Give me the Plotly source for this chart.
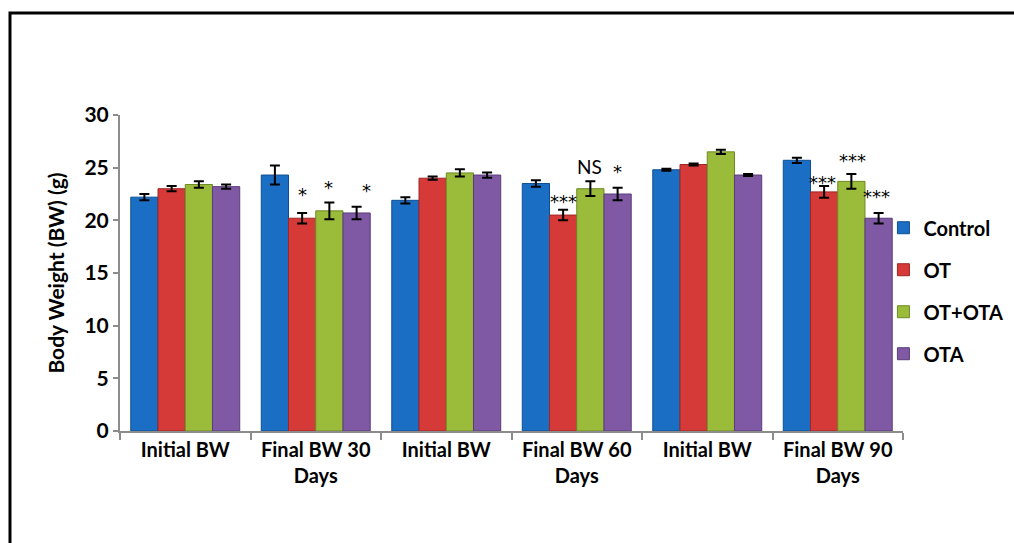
import plotly.graph_objects as go

categories = ["Initial BW", "Final BW 30<br>Days", "Initial BW", "Final BW 60<br>Days", "Initial BW", "Final BW 90<br>Days"]
series_names = ["Control", "OT", "OT+OTA", "OTA"]
control = [22.2, 24.3, 21.9, 23.5, 24.8, 25.7]
ot = [23.0, 20.2, 24.0, 20.5, 25.3, 22.7]
ot_ota = [23.4, 20.9, 24.5, 23.0, 26.5, 23.7]
ota = [23.2, 20.7, 24.3, 22.5, 24.3, 20.2]
control_err = [0.3, 0.9, 0.3, 0.3, 0.1, 0.25]
ot_err = [0.25, 0.5, 0.15, 0.5, 0.1, 0.55]
ot_ota_err = [0.3, 0.8, 0.35, 0.7, 0.2, 0.7]
ota_err = [0.2, 0.6, 0.25, 0.6, 0.1, 0.5]
colors = ["#1A6FC4", "#D63A38", "#9BBB3A", "#7F59A3"]
edge_colors = ["#0F4E91", "#9E2624", "#6E8A24", "#5A3D7A"]

# significance labels: (x position, y value, text)
sig_x = [0.90, 1.10, 1.39, 2.895, 3.10, 3.31, 4.88, 5.11, 5.30]
sig_y = [22.5, 23.1, 22.8, 21.8, 25.1, 24.6, 23.6, 25.7, 22.3]
sig_text = ["*", "*", "*", "***", "NS", "*", "***", "***", "***"]

values = [control, ot, ot_ota, ota]
errors = [control_err, ot_err, ot_ota_err, ota_err]
xs = list(range(len(categories)))

fig = go.Figure()
for i, name in enumerate(series_names):
    fig.add_trace(go.Bar(
        x=xs, y=values[i], name=name, legendgroup=name,
        marker=dict(color=colors[i], line=dict(color=edge_colors[i], width=1)),
        error_y=dict(type="data", array=errors[i], color="black", thickness=2, width=5),
    ))

for x, y, t in zip(sig_x, sig_y, sig_text):
    if t == "NS":
        f = dict(family="Lato", size=19, color="black")
    else:
        f = dict(family="DejaVu Sans", size=18, color="black")
    fig.add_annotation(x=x, y=y, text=t, showarrow=False, font=f)

fig.add_shape(type="rect", xref="paper", yref="paper", x0=-0.1405, x1=2.0, y0=-2.0, y1=1.3228,
              line=dict(color="black", width=3), fillcolor="rgba(0,0,0,0)", layer="below")

fig.update_layout(
    width=1014, height=543,
    margin=dict(l=120, r=111, t=115, b=112, autoexpand=False),
    paper_bgcolor="white", plot_bgcolor="white",
    barmode="group", bargap=0.165, bargroupgap=0,
    font=dict(family="Lato", color="black"),
    legend=dict(x=0.975, y=0.705, xanchor="left", yanchor="top",
                font=dict(family="Lato", size=20, color="black", weight="bold"),
                tracegroupgap=13, traceorder="grouped", itemwidth=30, bgcolor="rgba(0,0,0,0)"),
    xaxis=dict(tickmode="array", tickvals=xs, ticktext=["<b>" + c.replace("<br>", "</b><br><b>") + "</b>" for c in categories],
               range=[-0.5, 5.5], showline=True, linecolor="#8C8C8C", linewidth=2,
               ticks="", tickfont=dict(family="Lato", size=20, color="black"),
               minor=dict(tickmode="array", tickvals=[-0.5, 0.5, 1.5, 2.5, 3.5, 4.5, 5.5],
                          ticks="outside", ticklen=7, tickcolor="#8C8C8C", tickwidth=2),
               showgrid=False, zeroline=False),
    yaxis=dict(range=[0, 30], tickvals=[0, 5, 10, 15, 20, 25, 30], showline=True, linecolor="#8C8C8C", linewidth=2,
               ticks="outside", ticklen=5, tickcolor="#8C8C8C", tickwidth=2,
               tickfont=dict(family="Lato", size=21, color="black", weight="bold"),
               title=dict(text="<b>Body Weight (BW) (g)</b>", font=dict(family="Lato", size=21, color="black"), standoff=14),
               showgrid=False, zeroline=False),
)

fig.write_html("out.html", config={"displayModeBar": False},
               post_script="document.body.style.margin='0';document.body.style.overflow='hidden';")
